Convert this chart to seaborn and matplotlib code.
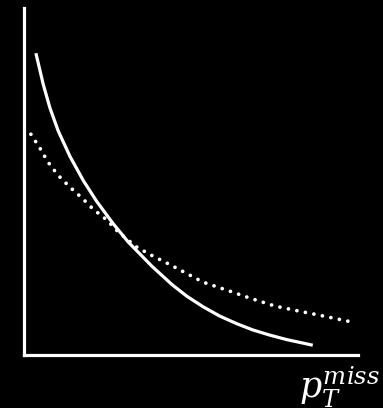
import matplotlib
matplotlib.use("Agg")
import matplotlib.pyplot as plt
import seaborn as sns

# values (arbitrary units, axis 0..10)
x_solid = [0.37, 0.59, 0.79, 1.04, 1.39, 1.79, 2.19, 2.68, 3.13, 3.84,
           4.44, 4.89, 5.37, 5.87, 6.38, 6.86, 7.37, 7.88, 8.65]
y_solid = [8.70, 7.80, 7.12, 6.45, 5.72, 5.02, 4.42, 3.78, 3.25, 2.55,
           2.02, 1.68, 1.38, 1.11, 0.89, 0.71, 0.56, 0.43, 0.27]

x_dotted = [0.22, 0.49, 0.73, 1.03, 1.39, 1.75, 2.08, 2.50, 2.83, 3.39,
            3.84, 4.47, 5.37, 6.08, 6.77, 7.52, 8.21, 8.68, 9.82]
y_dotted = [6.36, 5.96, 5.56, 5.18, 4.83, 4.52, 4.20, 3.88, 3.54, 3.10,
            2.86, 2.55, 2.09, 1.86, 1.63, 1.40, 1.26, 1.17, 0.94]

axis_label = r"$p_T^{miss}$"

sns.set_theme(style="white")
plt.rcParams["mathtext.fontset"] = "dejavuserif"

fig = plt.figure(figsize=(3.83, 4.08), dpi=100, facecolor="black")
ax = fig.add_axes([0.0614, 0.131, 0.873, 0.849])
ax.set_facecolor("black")

sns.lineplot(x=x_solid, y=y_solid, ax=ax, color="white", linewidth=2.3,
             solid_capstyle="butt")
sns.lineplot(x=x_dotted, y=y_dotted, ax=ax, color="white", linewidth=2.7,
             linestyle=(0, (0.01, 2.3)), dash_capstyle="round")

ax.set_xlim(0, 10)
ax.set_ylim(0, 10)
ax.set_xticks([])
ax.set_yticks([])
for side in ["top", "right"]:
    ax.spines[side].set_visible(False)
for side in ["left", "bottom"]:
    ax.spines[side].set_color("white")
    ax.spines[side].set_linewidth(2.3)

fig.text(0.993, 0.024, axis_label, color="white", fontsize=25,
         ha="right", va="baseline")

plt.savefig("out.png", dpi=100, facecolor="black")
